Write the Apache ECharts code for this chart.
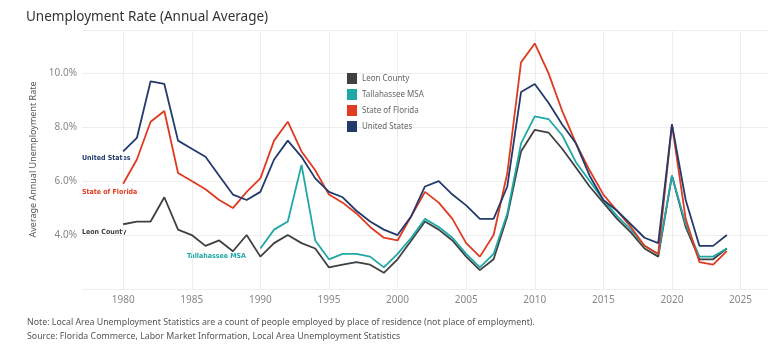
<!DOCTYPE html>
<html>
<head>
<meta charset="utf-8">
<script src="https://cdn.jsdelivr.net/npm/echarts@6/dist/echarts.min.js"></script>
<style>html,body{margin:0;padding:0;background:#fff}#c{width:780px;height:345px}</style>
</head>
<body>
<div id="c"></div>
<script>
const years = [1980,1981,1982,1983,1984,1985,1986,1987,1988,1989,1990,1991,1992,1993,1994,1995,1996,1997,1998,1999,2000,2001,2002,2003,2004,2005,2006,2007,2008,2009,2010,2011,2012,2013,2014,2015,2016,2017,2018,2019,2020,2021,2022,2023,2024];
const leonCounty = [4.4,4.5,4.5,5.4,4.2,4.0,3.6,3.8,3.4,4.0,3.2,3.7,4.0,3.7,3.5,2.8,2.9,3.0,2.9,2.6,3.1,3.8,4.5,4.2,3.8,3.2,2.7,3.1,4.7,7.1,7.9,7.8,7.2,6.5,5.8,5.2,4.6,4.1,3.5,3.2,6.2,4.3,3.1,3.1,3.5];
const tallahasseeMSA = [null,null,null,null,null,null,null,null,null,null,3.5,4.2,4.5,6.6,3.8,3.1,3.3,3.3,3.2,2.8,3.3,3.9,4.6,4.3,3.9,3.3,2.8,3.3,4.8,7.4,8.4,8.3,7.7,6.7,6.0,5.3,4.7,4.2,3.6,3.3,6.2,4.4,3.2,3.2,3.5];
const stateOfFlorida = [5.9,6.8,8.2,8.6,6.3,6.0,5.7,5.3,5.0,5.6,6.1,7.5,8.2,7.1,6.4,5.5,5.2,4.8,4.3,3.9,3.8,4.7,5.6,5.2,4.6,3.7,3.2,4.0,6.3,10.4,11.1,10.0,8.6,7.4,6.4,5.5,4.9,4.3,3.6,3.3,8.1,4.6,3.0,2.9,3.4];
const unitedStates = [7.1,7.6,9.7,9.6,7.5,7.2,6.9,6.2,5.5,5.3,5.6,6.8,7.5,6.9,6.1,5.6,5.4,4.9,4.5,4.2,4.0,4.7,5.8,6.0,5.5,5.1,4.6,4.6,5.8,9.3,9.6,8.9,8.1,7.4,6.2,5.3,4.9,4.4,3.9,3.7,8.1,5.3,3.6,3.6,4.0];
const xTickYears = [1980,1985,1990,1995,2000,2005,2010,2015,2020,2025];
const seriesNames = ['Leon County','Tallahassee MSA','State of Florida','United States'];
const colors = ['#404040','#1ea8a6','#e03a20','#223a6c'];

const pairs = arr => years.map((y,i)=>[y,arr[i]]).filter(p=>p[1]!==null);
const chart = echarts.init(document.getElementById('c'));
const dataSets = [leonCounty, tallahasseeMSA, stateOfFlorida, unitedStates];
const series = [{
  type:'line', data:[], silent:true, animation:false, z:0, zlevel:0,
  markLine:{silent:true, symbol:'none', label:{show:false}, animation:false, z:0,
    lineStyle:{color:'#eeeeee', width:1, type:'solid'},
    data: xTickYears.map(y=>({xAxis:y}))}
}];
dataSets.forEach((d,i)=>series.push({
  name: seriesNames[i], type:'line', data: pairs(d), symbol:'none',
  lineStyle:{width:1.8,color:colors[i]}, itemStyle:{color:colors[i]}, z: 5+i,
  animation:false
}));
const lblFont = '"Liberation Sans Narrow","DejaVu Sans Condensed",sans-serif';
chart.setOption({
  animation:false,
  backgroundColor:'#fff',
  title:{text:'Unemployment Rate (Annual Average)', left:21, top:5,
    textStyle:{fontFamily:'"Noto Sans",sans-serif', fontSize:13.5, fontWeight:'normal', color:'#333'}},
  grid:{left:82, right:12, top:30, bottom:56},
  legend:{orient:'vertical', left:342, top:68, itemWidth:10, itemHeight:11, itemGap:5, icon:'rect',
    data: seriesNames,
    textStyle:{fontFamily:'"Noto Sans",sans-serif', fontSize:8, color:'#666'}},
  xAxis:{type:'value', min:1977, max:2027, interval:1,
    axisLine:{show:false}, axisTick:{show:false}, splitLine:{show:false},
    axisLabel:{margin:6, color:'#888', fontSize:10, fontFamily:'"Noto Sans",sans-serif',
      formatter:v=> (v%5===0 ? String(v) : '')}},
  yAxis:{type:'value', min:2, max:11.6, interval:2,
    name:'Average Annual Unemployment Rate', nameLocation:'middle', nameGap:44,
    nameTextStyle:{fontSize:9, color:'#555', fontFamily:'"Noto Sans",sans-serif'},
    axisLine:{show:false}, axisTick:{show:false},
    splitLine:{lineStyle:{color:'#eeeeee', width:1}},
    axisLabel:{margin:5, color:'#888', fontSize:10, fontFamily:'"Noto Sans",sans-serif',
      formatter:v=> (v>=4 && Math.abs(v%2)<1e-9 ? v.toFixed(1)+'%' : '')}},
  graphic:[
    {type:'text', left:82, top:155, style:{text:'United States', fill:colors[3], font:'bold 7px '+lblFont}},
    {type:'text', left:82, top:189, style:{text:'State of Florida', fill:colors[2], font:'bold 7px '+lblFont}},
    {type:'text', left:82, top:229, style:{text:'Leon County', fill:colors[0], font:'bold 7px '+lblFont}},
    {type:'text', left:187, top:253, style:{text:'Tallahassee MSA', fill:colors[1], font:'bold 7px '+lblFont}},
    {type:'text', left:27, top:318, style:{text:'Note: Local Area Unemployment Statistics are a count of people employed by place of residence (not place of employment).', fill:'#555', font:'8.8px "Noto Sans",sans-serif'}},
    {type:'text', left:27, top:332, style:{text:'Source: Florida Commerce, Labor Market Information, Local Area Unemployment Statistics', fill:'#555', font:'8.8px "Noto Sans",sans-serif'}}
  ],
  series: series
});
</script>
</body>
</html>
